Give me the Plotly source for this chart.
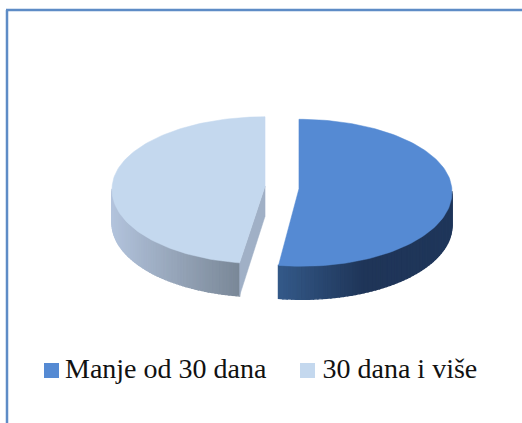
import math
import plotly.graph_objects as go

categories = ["Manje od 30 dana", "30 dana i više"]
values = [52.4, 47.6]
top_colors = ["#558AD3", "#C4D8EE"]
wall_left = [(52, 90, 138), (178, 195, 220)]
wall_mid = [(31, 53, 88), (150, 165, 185)]
wall_right = [(31, 54, 90), (122, 136, 152)]
cut_color = "#A0B0C6"

W, H = 522, 423
CX, CY = 282, 187.5
RIM_CY = 190
RX, RY_BACK, RY_FRONT = 153, 72, 75
DEPTH, EXPLODE, SPREAD = 33, 17, 0.15


def rim(t, ox, oy):
    c = math.cos(t)
    ry = RY_BACK if c > 0 else RY_FRONT
    return CX + ox * (1 + SPREAD * max(0, -c)) + RX * math.sin(t), RIM_CY + oy - ry * c


def mix(a, b, f):
    return "rgb(%d,%d,%d)" % tuple(round(a[i] + (b[i] - a[i]) * f) for i in range(3))


total = sum(values)
slices = []
start = 0.0
for v in values:
    end = start + 2 * math.pi * v / total
    mid = (start + end) / 2
    slices.append((start, end, EXPLODE * math.sin(mid), -EXPLODE * math.cos(mid)))
    start = end

fig = go.Figure()


def poly(pts, color, width=1.0):
    fig.add_trace(go.Scatter(
        x=[p[0] for p in pts] + [pts[0][0]], y=[p[1] for p in pts] + [pts[0][1]],
        mode="lines", fill="toself", fillcolor=color,
        line=dict(color=color, width=width), hoverinfo="skip", showlegend=False))


for i, (a, b, ox, oy) in enumerate(slices):
    lo, hi = max(a, math.pi / 2), min(b, 3 * math.pi / 2)
    n = 60
    xs = [rim(lo, ox, oy)[0], rim(hi, ox, oy)[0]]
    for k in range(n):
        t0 = lo + (hi - lo) * k / n
        t1 = lo + (hi - lo) * (k + 1) / n
        p0, p1 = rim(t0, ox, oy), rim(t1, ox, oy)
        f = (p0[0] - min(xs)) / (max(xs) - min(xs))
        c = mix(wall_left[i], wall_mid[i], min(f * 2, 1)) if f < .5 else mix(wall_mid[i], wall_right[i], (f - .5) * 2)
        poly([p0, p1, (p1[0], p1[1] + DEPTH), (p0[0], p0[1] + DEPTH)], c, 1.4)

a, b, ox, oy = slices[1]
apex = (CX + ox, CY + oy)
corner = rim(a, ox, oy)
poly([apex, corner, (corner[0], corner[1] + DEPTH), (apex[0], apex[1] + DEPTH - 3)], cut_color, 0.5)

for i, (a, b, ox, oy) in enumerate(slices):
    n = 120
    pts = [(CX + ox, CY + oy)] + [rim(a + (b - a) * k / n, ox, oy) for k in range(n + 1)]
    fig.add_trace(go.Scatter(
        x=[p[0] for p in pts] + [pts[0][0]], y=[p[1] for p in pts] + [pts[0][1]],
        mode="lines", fill="toself", fillcolor=top_colors[i],
        line=dict(color=top_colors[i], width=0.5), name=categories[i], showlegend=False,
        hoverinfo="name"))

legend_x = [51.5, 307.5]
legend_text_x = [65, 322.5]
for i, c in enumerate(categories):
    fig.add_trace(go.Scatter(
        x=[legend_x[i]], y=[370.5], mode="markers",
        marker=dict(symbol="square", size=15, color=top_colors[i]),
        showlegend=False, hoverinfo="skip"))
    fig.add_trace(go.Scatter(
        x=[legend_text_x[i]], y=[370.5], mode="text", text=[c], textposition="middle right",
        textfont=dict(family="Liberation Serif", size=28, color="#111111"),
        showlegend=False, hoverinfo="skip"))

fig.update_layout(
    width=W, height=H, margin=dict(l=0, r=0, t=0, b=0), paper_bgcolor="white", plot_bgcolor="white",
    xaxis=dict(range=[0, W], visible=False, fixedrange=True),
    yaxis=dict(range=[H, 0], visible=False, fixedrange=True),
    shapes=[
        dict(type="line", x0=7, x1=7, y0=10, y1=H, line=dict(color="#5E8CC6", width=2.5)),
        dict(type="line", x0=6, x1=W, y0=10, y1=10, line=dict(color="#5E8CC6", width=2.5)),
    ],
)
fig.write_html("out.html", config={"displayModeBar": False},
               post_script="document.body.style.margin='0';document.body.style.overflow='hidden';")
